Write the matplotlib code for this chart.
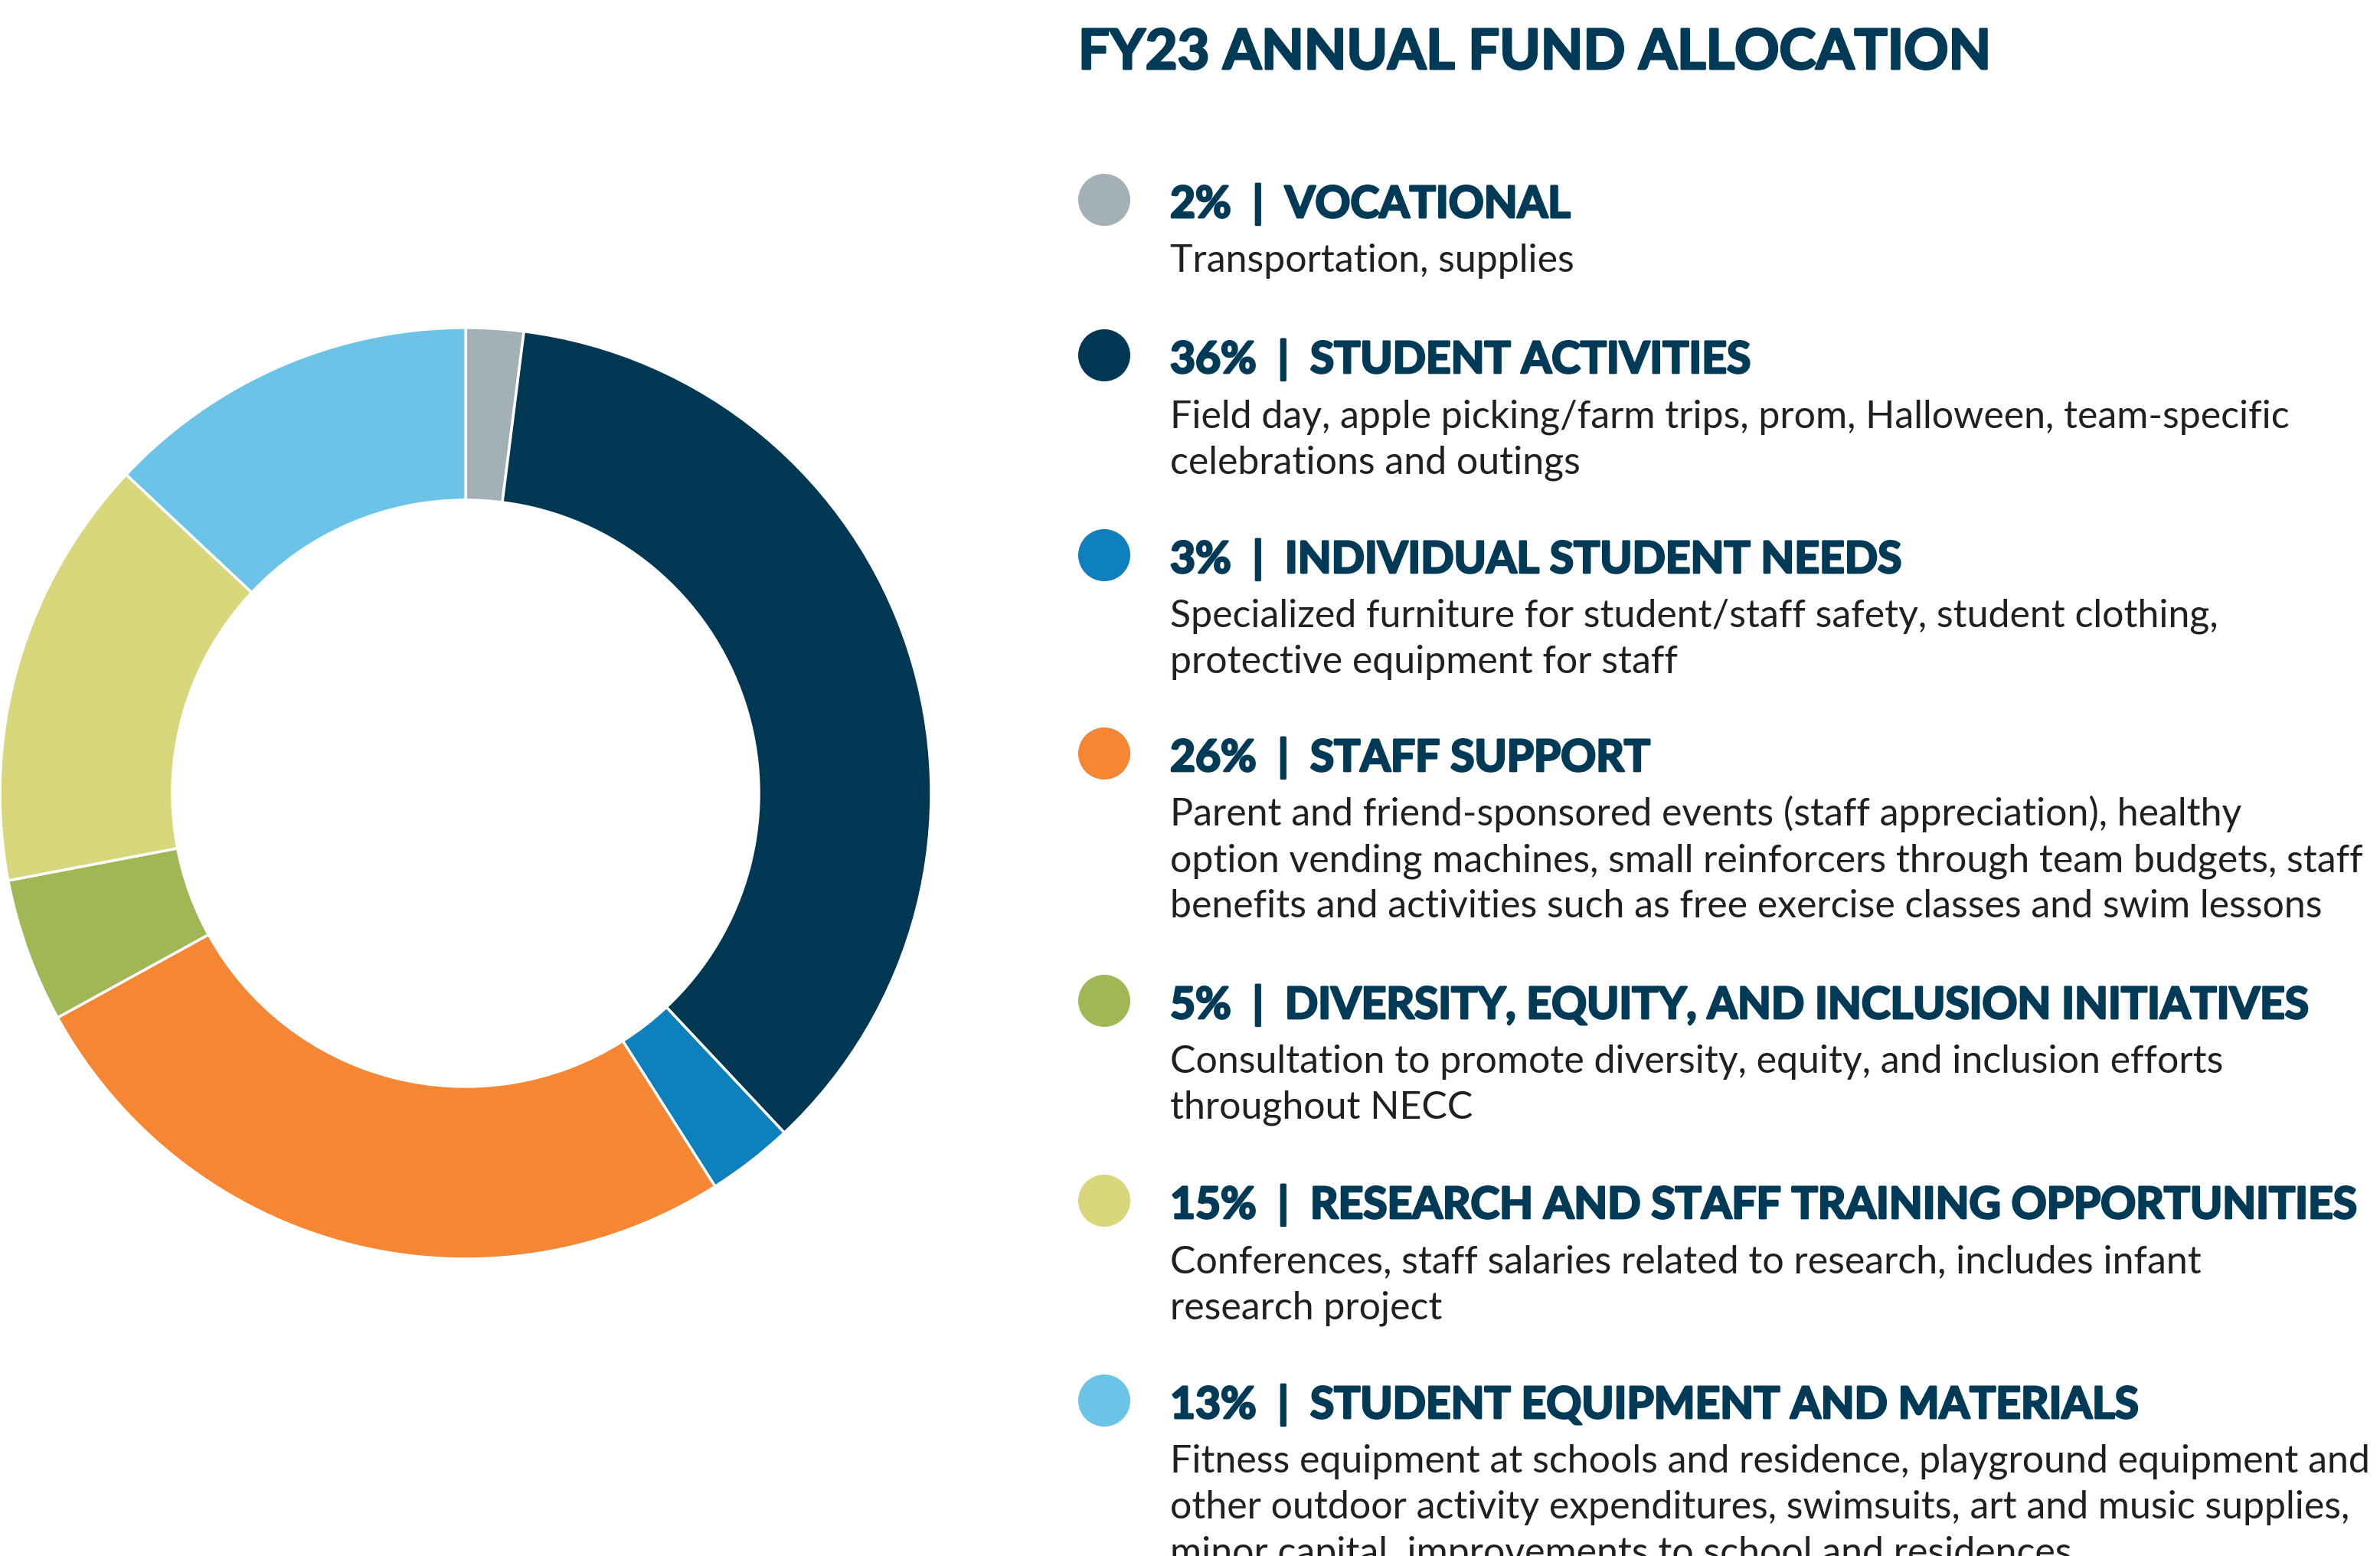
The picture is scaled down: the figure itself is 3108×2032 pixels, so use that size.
import matplotlib
matplotlib.use('Agg')
import matplotlib.pyplot as plt
import matplotlib.patheffects as pe
from matplotlib.patches import Circle

percents = [2, 36, 3, 26, 5, 15, 13]
titles = ['VOCATIONAL', 'STUDENT ACTIVITIES', 'INDIVIDUAL STUDENT NEEDS', 'STAFF SUPPORT',
          'DIVERSITY, EQUITY, AND INCLUSION INITIATIVES',
          'RESEARCH AND STAFF TRAINING OPPORTUNITIES', 'STUDENT EQUIPMENT AND MATERIALS']
details = [
    ['Transportation, supplies'],
    ['Field day, apple picking/farm trips, prom, Halloween, team-specific',
     'celebrations and outings'],
    ['Specialized furniture for student/staff safety, student clothing,',
     'protective equipment for staff'],
    ['Parent and friend-sponsored events (staff appreciation), healthy',
     'option vending machines, small reinforcers through team budgets, staff',
     'benefits and activities such as free exercise classes and swim lessons'],
    ['Consultation to promote diversity, equity, and inclusion efforts',
     'throughout NECC'],
    ['Conferences, staff salaries related to research, includes infant',
     'research project'],
    ['Fitness equipment at schools and residence, playground equipment and',
     'other outdoor activity expenditures, swimsuits, art and music supplies,',
     'minor capital  improvements to school and residences'],
]
colors = ['#A3B1B6', '#003853', '#0D80BD', '#F48634', '#A1B756', '#D8D77C', '#6BC4E7']

navy = '#003A56'
body = '#231F20'
W, H = 3108, 2032

fig = plt.figure(figsize=(W / 100, H / 100), dpi=100)
fig.patch.set_facecolor('white')

# donut
cx, cy, R = 608, 1036, 608
ax = fig.add_axes([(cx - R) / W, (H - cy - R) / H, 2 * R / W, 2 * R / H])
ax.pie(percents, colors=colors, startangle=90, counterclock=False, radius=1,
       wedgeprops=dict(width=0.37, edgecolor='white', linewidth=2.5))
ax.set_xlim(-1, 1)
ax.set_ylim(-1, 1)
ax.set_aspect('equal')
ax.axis('off')

# legend / text panel in pixel coords
tx = fig.add_axes([0, 0, 1, 1])
tx.set_xlim(0, W)
tx.set_ylim(H, 0)
tx.axis('off')

heavy = [pe.withStroke(linewidth=2, foreground=navy)]

tx.text(1408, 90, 'FY23 ANNUAL FUND ALLOCATION', fontsize=52, fontweight='bold',
        family='Lato', color=navy, va='baseline', ha='left', path_effects=heavy)

row_y = [261, 464, 725, 984, 1307, 1568, 1829]
for i in range(len(percents)):
    y = row_y[i]
    tx.add_patch(Circle((1442, y), 34, color=colors[i], lw=0))
    tx.text(1528, y + 23, '{}%  |  {}'.format(percents[i], titles[i]), fontsize=41,
            fontweight='bold', family='Lato', color=navy, va='baseline', ha='left',
            path_effects=heavy)
    for j, line in enumerate(details[i]):
        tx.text(1528, y + 94 + 60 * j, line, fontsize=36, fontweight='normal',
                family='Lato', color=body, va='baseline', ha='left')

plt.savefig('out.png', dpi=100, facecolor='white')
